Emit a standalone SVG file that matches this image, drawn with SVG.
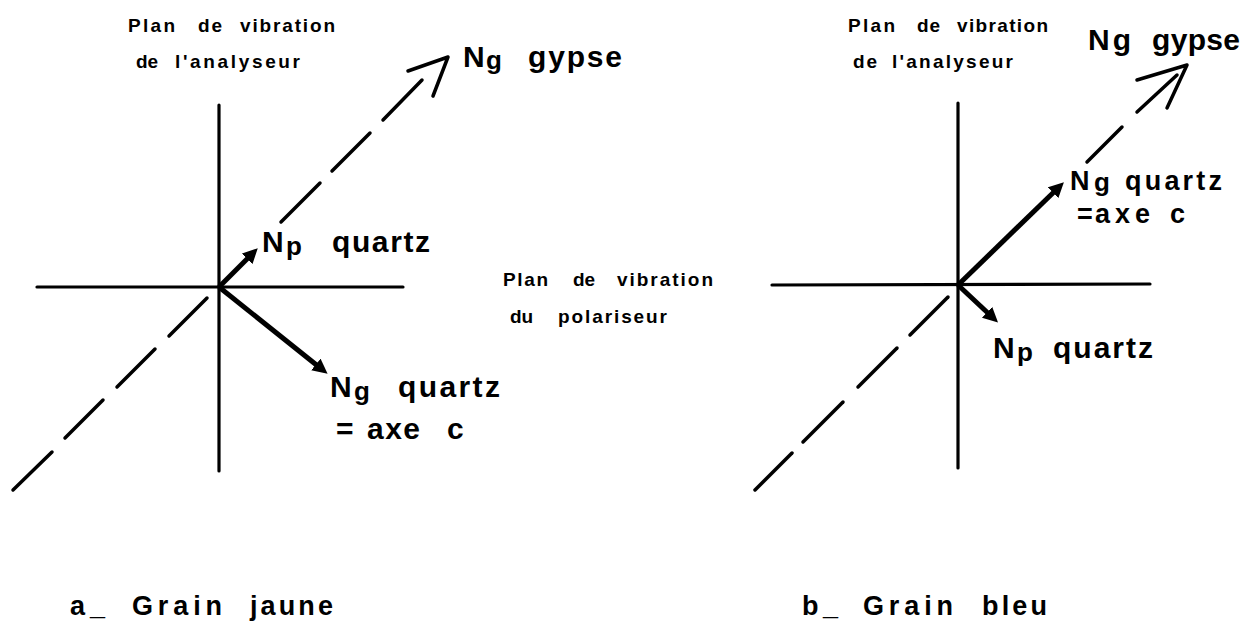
<svg xmlns="http://www.w3.org/2000/svg" width="1256" height="623" viewBox="0 0 1256 623">
<style>
.ax{stroke:#000;stroke-width:3.2;fill:none;stroke-linecap:round}
.da{stroke:#000;stroke-width:3.5;fill:none;stroke-linecap:round}
.vec{stroke:#000;stroke-width:5;fill:none;marker-end:url(#ah)}
.hd{stroke:#000;stroke-width:3.5;fill:none;stroke-linecap:round;stroke-linejoin:round}
.sm{font-family:"Liberation Sans",Arial,sans-serif;font-weight:bold;font-size:19px;fill:#000}
.lg{font-family:"Liberation Sans",Arial,sans-serif;font-weight:bold;font-size:30px;fill:#000}
.md{font-family:"Liberation Sans",Arial,sans-serif;font-weight:bold;font-size:27px;fill:#000}
.sub{font-size:26px}
.cap{font-family:"Liberation Sans",Arial,sans-serif;font-weight:bold;font-size:27px;fill:#000}
</style>
<defs>
<marker id="ah" markerUnits="userSpaceOnUse" markerWidth="17" markerHeight="16" refX="4" refY="7.5" orient="auto">
<path d="M0,0 L15,7.5 L0,15 z" fill="#000"/>
</marker>
</defs>
<rect width="1256" height="623" fill="#fff"/>
<g id="connectors">
<g id="left-axes">
<line class="ax" x1="219" y1="105" x2="219" y2="471"/>
<line class="ax" x1="37" y1="287" x2="403" y2="287"/>
</g>
<g id="left-gypse">
<line class="da" x1="13" y1="490" x2="52" y2="452"/>
<line class="da" x1="65" y1="438" x2="103" y2="400"/>
<line class="da" x1="117" y1="387" x2="155" y2="349"/>
<line class="da" x1="169" y1="336" x2="207" y2="298"/>
<line class="da" x1="281" y1="222" x2="320" y2="183"/>
<line class="da" x1="332" y1="171" x2="370" y2="133"/>
<line class="da" x1="383" y1="120" x2="422" y2="80"/>
<polyline class="hd" points="408,71 448,57 433,96"/>
</g>
<line id="left-np" class="vec" x1="219" y1="287" x2="250" y2="256"/>
<line id="left-ng" class="vec" x1="219" y1="287" x2="319" y2="367"/>
<g id="right-axes">
<line class="ax" x1="958" y1="103" x2="958" y2="468"/>
<line class="ax" x1="772" y1="285" x2="1150" y2="284"/>
</g>
<g id="right-gypse">
<line class="da" x1="755" y1="490" x2="792" y2="453"/>
<line class="da" x1="803" y1="442" x2="843" y2="402"/>
<line class="da" x1="858" y1="387" x2="897" y2="348"/>
<line class="da" x1="910" y1="335" x2="948" y2="297"/>
<line class="da" x1="1087" y1="162" x2="1122" y2="127"/>
<line class="da" x1="1137" y1="112" x2="1177" y2="75"/>
<polyline class="hd" points="1137,80 1187,65 1167,108"/>
</g>
<line id="right-ng" class="vec" x1="958" y1="285" x2="1056" y2="190"/>
<line id="right-np" class="vec" x1="958" y1="285" x2="990" y2="315"/>
</g>
<g id="label-left-analyseur">
<text class="sm" x="128" y="32" textLength="47" lengthAdjust="spacing">Plan</text>
<text class="sm" x="198" y="32" textLength="24" lengthAdjust="spacing">de</text>
<text class="sm" x="240" y="32" textLength="95" lengthAdjust="spacing">vibration</text>
<text class="sm" x="136" y="68" textLength="22" lengthAdjust="spacing">de</text>
<text class="sm" x="175" y="68" textLength="125" lengthAdjust="spacing">l'analyseur</text>
</g>
<g id="label-left-gypse">
<text class="lg" x="463" y="67" textLength="39" lengthAdjust="spacing">N<tspan class="sub" dy="2">g</tspan></text>
<text class="lg" x="528" y="67" textLength="94" lengthAdjust="spacing">gypse</text>
</g>
<g id="label-left-np">
<text class="lg" x="262" y="252" textLength="40" lengthAdjust="spacing">N<tspan class="sub" dy="3">p</tspan></text>
<text class="lg" x="332" y="252" textLength="98" lengthAdjust="spacing">quartz</text>
</g>
<g id="label-left-ng">
<text class="lg" x="330" y="397" textLength="40" lengthAdjust="spacing">N<tspan class="sub" dy="3">g</tspan></text>
<text class="lg" x="398" y="397" textLength="102" lengthAdjust="spacing">quartz</text>
<text class="lg" x="336" y="439">=</text>
<text class="lg" x="367" y="439" textLength="53" lengthAdjust="spacing">axe</text>
<text class="lg" x="447" y="439">c</text>
</g>
<g id="label-polariseur">
<text class="sm" x="503" y="286" textLength="45" lengthAdjust="spacing">Plan</text>
<text class="sm" x="573" y="286" textLength="22" lengthAdjust="spacing">de</text>
<text class="sm" x="617" y="286" textLength="96" lengthAdjust="spacing">vibration</text>
<text class="sm" x="510" y="323" textLength="23" lengthAdjust="spacing">du</text>
<text class="sm" x="558" y="323" textLength="109" lengthAdjust="spacing">polariseur</text>
</g>
<g id="label-right-analyseur">
<text class="sm" x="848" y="32" textLength="47" lengthAdjust="spacing">Plan</text>
<text class="sm" x="917" y="32" textLength="23" lengthAdjust="spacing">de</text>
<text class="sm" x="957" y="32" textLength="91" lengthAdjust="spacing">vibration</text>
<text class="sm" x="853" y="68" textLength="24" lengthAdjust="spacing">de</text>
<text class="sm" x="892" y="68" textLength="121" lengthAdjust="spacing">l'analyseur</text>
</g>
<g id="label-right-gypse">
<text class="lg" x="1088" y="50" textLength="43" lengthAdjust="spacing">Ng</text>
<text class="lg" x="1152" y="50" textLength="88" lengthAdjust="spacing">gypse</text>
</g>
<g id="label-right-ng">
<text class="md" x="1070" y="190" textLength="40" lengthAdjust="spacing">N<tspan class="sub" dy="1">g</tspan></text>
<text class="md" x="1125" y="190" textLength="97" lengthAdjust="spacing">quartz</text>
<text class="md" x="1077" y="223">=</text>
<text class="md" x="1095" y="223" textLength="55" lengthAdjust="spacing">axe</text>
<text class="md" x="1170" y="223">c</text>
</g>
<g id="label-right-np">
<text class="lg" x="993" y="358" textLength="40" lengthAdjust="spacing">N<tspan class="sub" dy="3">p</tspan></text>
<text class="lg" x="1053" y="358" textLength="100" lengthAdjust="spacing">quartz</text>
</g>
<g id="caption-a">
<text class="cap" x="70" y="615">a</text>
<text class="cap" x="90" y="615">_</text>
<text class="cap" x="132" y="615" textLength="90" lengthAdjust="spacing">Grain</text>
<text class="cap" x="250" y="615" textLength="83" lengthAdjust="spacing">jaune</text>
</g>
<g id="caption-b">
<text class="cap" x="802" y="615">b</text>
<text class="cap" x="823" y="615">_</text>
<text class="cap" x="863" y="615" textLength="90" lengthAdjust="spacing">Grain</text>
<text class="cap" x="982" y="615" textLength="65" lengthAdjust="spacing">bleu</text>
</g>
</svg>
